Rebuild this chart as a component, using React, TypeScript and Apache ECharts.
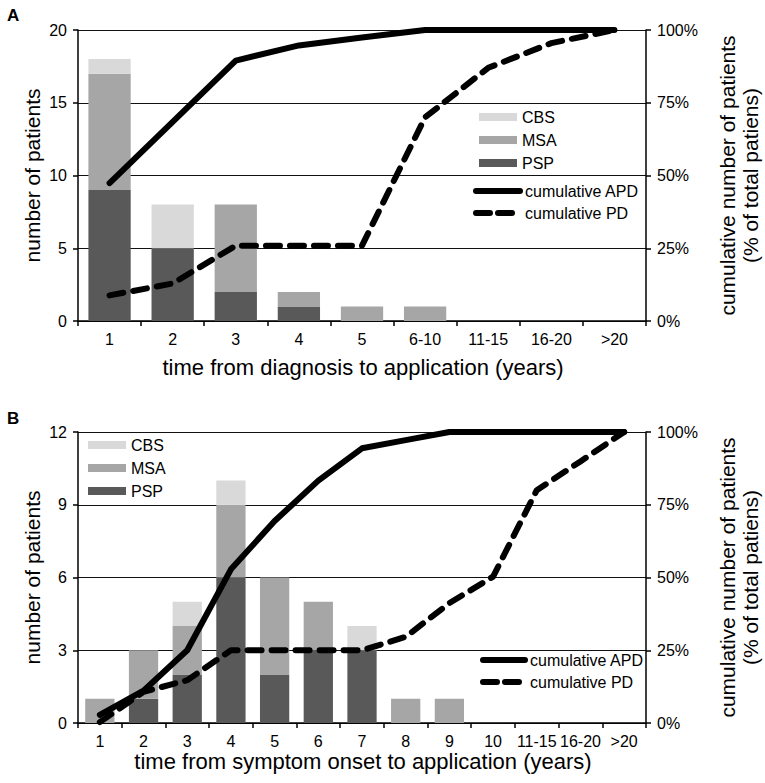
import React, { useEffect, useRef } from "react";
import * as echarts from "echarts";

// ---------- Panel A data ----------
const catsA = ["1", "2", "3", "4", "5", "6-10", "11-15", "16-20", ">20"];
const pspA = [9, 5, 2, 1, 0, 0, 0, 0, 0];
const msaA = [8, 0, 6, 1, 1, 1, 0, 0, 0];
const cbsA = [1, 3, 0, 0, 0, 0, 0, 0, 0];
const apdA = [47.4, 68.4, 89.5, 94.7, 97.4, 100, 100, 100, 100];
const pdA = [8.8, 12.9, 25.9, 25.9, 25.9, 70, 87, 95.5, 100];
const leftMaxA = 20;
const leftStepA = 5;

// ---------- Panel B data ----------
const catsB = ["1", "2", "3", "4", "5", "6", "7", "8", "9", "10", "11-15", "16-20", ">20"];
const pspB = [0, 1, 2, 6, 2, 3, 3, 0, 0, 0, 0, 0, 0];
const msaB = [1, 2, 2, 3, 4, 2, 0, 1, 1, 0, 0, 0, 0];
const cbsB = [0, 0, 1, 1, 0, 0, 1, 0, 0, 0, 0, 0, 0];
const apdB = [2.8, 11.1, 25, 52.8, 69.4, 83.3, 94.4, 97.2, 100, 100, 100, 100, 100];
const pdB = [0.3, 10.7, 14.7, 25, 25, 25, 25, 29.6, 41.2, 50.3, 80, 89.9, 100];
const leftMaxB = 12;
const leftStepB = 3;

const pctMax = 100;
const pctStep = 25;

const C_CBS = "#d9d9d9";
const C_MSA = "#a6a6a6";
const C_PSP = "#595959";
const FONT = "'Liberation Sans', Arial, sans-serif";

export default function App() {
  const ref = useRef<HTMLDivElement>(null);

  useEffect(() => {
    document.body.style.margin = "0";
    const chart = echarts.init(ref.current!, null, { renderer: "svg" });

    const axisLine = { show: true, lineStyle: { color: "#000", width: 1.5 } };
    const tickStyle = { show: true, length: 5, lineStyle: { color: "#000", width: 1.5 } };
    const lbl = { color: "#000", fontSize: 16, fontFamily: FONT, lineHeight: 16 };

    const xAxis = (cats: string[], gridIndex: number) => ({
      type: "category",
      gridIndex,
      data: cats,
      boundaryGap: true,
      axisLine,
      axisTick: { ...tickStyle, alignWithLabel: false, interval: 0 },
      axisLabel: { ...lbl, interval: 0, margin: 10 },
    });
    const leftY = (max: number, step: number, gridIndex: number) => ({
      type: "value",
      gridIndex,
      position: "left",
      min: 0,
      max,
      interval: step,
      axisLine,
      axisTick: tickStyle,
      axisLabel: { ...lbl, margin: 11 },
      splitLine: { show: true, lineStyle: { color: "#111", width: 1 } },
    });
    const rightY = (gridIndex: number) => ({
      type: "value",
      gridIndex,
      position: "right",
      min: 0,
      max: pctMax,
      interval: pctStep,
      axisLine,
      axisTick: tickStyle,
      axisLabel: { ...lbl, margin: 11, formatter: "{value}%" },
      splitLine: { show: false },
    });

    const bar = (name: string, data: number[], color: string, xi: number, yi: number, stack: string) => ({
      type: "bar",
      name,
      data,
      stack,
      xAxisIndex: xi,
      yAxisIndex: yi,
      barCategoryGap: "33%",
      itemStyle: { color },
    });
    const solid = { color: "#000", width: 6, cap: "round", join: "round" };
    const dashed = { color: "#000", width: 6, type: [14, 10], cap: "round", join: "round" };
    const line = (name: string, data: number[], style: any, xi: number, yi: number) => ({
      type: "line",
      name,
      data,
      xAxisIndex: xi,
      yAxisIndex: yi,
      symbol: "none",
      color: "#000",
      itemStyle: { color: "#000" },
      lineStyle: style,
      z: 5,
    });

    const legText = { color: "#000", fontSize: 16, fontFamily: FONT, lineHeight: 16 };
    const barLegend = (left: number, top: number) => ({
      orient: "vertical",
      left,
      top,
      padding: 0,
      itemGap: 7,
      itemWidth: 38,
      itemHeight: 8,
      icon: "rect",
      textStyle: legText,
      selectedMode: false,
      data: ["CBS", "MSA", "PSP"],
    });
    const lineLegend = (left: number, top: number, w: number) => ({
      orient: "vertical",
      left,
      top,
      padding: 0,
      itemGap: 6,
      itemWidth: w,
      itemHeight: 8,
      textStyle: legText,
      selectedMode: false,
      itemStyle: { color: "#000", opacity: 0 },
      data: [
        { name: "cumulative APD", lineStyle: { width: 6, type: "solid", color: "#000", cap: "round" } },
        { name: "cumulative PD", lineStyle: { width: 6, type: [14, 8], color: "#000", cap: "round" } },
      ],
    });

    const titleX = { fill: "#000", fontSize: 22, fontFamily: FONT, align: "center", verticalAlign: "middle" };
    const titleY = { fill: "#000", fontSize: 21, fontFamily: FONT, align: "center", verticalAlign: "middle", lineHeight: 23 };
    const rightTitle = "cumulative number of patients\n(% of total patiens)";
    const panel = { fill: "#000", fontSize: 17, fontWeight: "bold", fontFamily: FONT };

    chart.setOption({
      animation: false,
      textStyle: { fontFamily: FONT },
      grid: [
        { left: 78, top: 30, width: 568, height: 291, outerBoundsMode: "none", containLabel: false },
        { left: 78, top: 432, width: 568, height: 291, outerBoundsMode: "none", containLabel: false },
      ],
      xAxis: [xAxis(catsA, 0), xAxis(catsB, 1)],
      yAxis: [leftY(leftMaxA, leftStepA, 0), rightY(0), leftY(leftMaxB, leftStepB, 1), rightY(1)],
      legend: [barLegend(479, 109), lineLegend(473, 183, 44), barLegend(88, 437), lineLegend(480, 652, 42)],
      series: [
        bar("PSP", pspA, C_PSP, 0, 0, "a"),
        bar("MSA", msaA, C_MSA, 0, 0, "a"),
        bar("CBS", cbsA, C_CBS, 0, 0, "a"),
        line("cumulative APD", apdA, solid, 0, 1),
        line("cumulative PD", pdA, dashed, 0, 1),
        bar("PSP", pspB, C_PSP, 1, 2, "b"),
        bar("MSA", msaB, C_MSA, 1, 2, "b"),
        bar("CBS", cbsB, C_CBS, 1, 2, "b"),
        line("cumulative APD", apdB, solid, 1, 3),
        line("cumulative PD", pdB, dashed, 1, 3),
      ],
      graphic: [
        { type: "text", x: 7, y: 7, style: { ...panel, text: "A" } },
        { type: "text", x: 7, y: 410, style: { ...panel, text: "B" } },
        { type: "text", x: 363, y: 367, style: { ...titleX, text: "time from diagnosis to application (years)" } },
        { type: "text", x: 363, y: 761, style: { ...titleX, text: "time from symptom onset to application (years)" } },
        { type: "text", x: 32, y: 175.5, rotation: Math.PI / 2, style: { ...titleY, text: "number of patients" } },
        { type: "text", x: 32, y: 577.5, rotation: Math.PI / 2, style: { ...titleY, text: "number of patients" } },
        { type: "text", x: 738.5, y: 175.5, rotation: Math.PI / 2, style: { ...titleY, text: rightTitle } },
        { type: "text", x: 738.5, y: 577.5, rotation: Math.PI / 2, style: { ...titleY, text: rightTitle } },
      ],
    });

    return () => chart.dispose();
  }, []);

  return <div ref={ref} style={{ width: 765, height: 783 }} />;
}
